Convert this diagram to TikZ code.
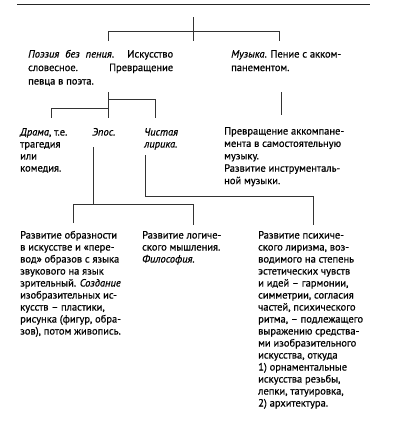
\documentclass[tikz,border=0pt]{standalone}
\usepackage{fontspec}
\setmainfont{PT Sans}[FakeBold=0.6]
\newcommand\myblk[1]{\parbox[t]{200pt}{\raggedright #1}}
\begin{document}
\begin{tikzpicture}[x=1pt,y=-1pt,
  txt/.style={anchor=base west, inner sep=0pt, font=\fontsize{10.5}{12}\selectfont},
  txtf/.style={anchor=base west, inner sep=0pt, font=\fontsize{10.5}{12.4}\selectfont},
  txtw/.style={anchor=base west, inner sep=0pt, font=\fontsize{10.5}{13.5}\selectfont},
  conn/.style={draw=black!80, line width=0.6pt}]
\useasboundingbox (0,0) rectangle (400,440);
% header rule
\coordinate (hl) at (17,4); \coordinate (hr) at (370,4);
\draw[draw=black!85, line width=0.7pt] (hl) -- (hr);
% texts
\node[txtw] (poetry) at (28,57.5) {\parbox[t]{145pt}{\textit{Поэзия без пения}. Искусство\linebreak словесное. Превращение\linebreak певца в поэта.}};
\node[txtw] (music) at (231,57.5) {\myblk{\textit{Музыка}. Пение с акком-\\панементом.}};
\node[txt] (drama) at (20,135.5) {\myblk{\textit{Драма}, т.е.\\трагедия\\или\\комедия.}};
\node[txt] (epos) at (92,135.5) {\myblk{\textit{Эпос.}}};
\node[txt] (lyric) at (144,135.5) {\myblk{\textit{Чистая}\\\textit{лирика.}}};
\node[txtf] (instr) at (224,134.5) {\myblk{Превращение аккомпане-\\мента в самостоятельную\\музыку.\\Развитие инструменталь-\\ной музыки.}};
\node[txt] (visual) at (20,238.5) {\myblk{Развитие образности\\в искусстве и «пере-\\вод» образов с языка\\звукового на язык\\зрительный. \textit{Создание}\\изобразительных ис-\\кусств – пластики,\\рисунка (фигур, обра-\\зов), потом живопись.}};
\node[txt] (logic) at (142,238.5) {\myblk{Развитие логиче-\\ского мышления.\\\textit{Философия.}}};
\node[txt] (psych) at (258,238.5) {\myblk{Развитие психиче-\\ского лиризма, воз-\\водимого на степень\\эстетических чувств\\и идей – гармонии,\\симметрии, согласия\\частей, психического\\ритма, – подлежащего\\выражению средства-\\ми изобразительного\\искусства, откуда\\1) орнаментальные\\искусства резьбы,\\лепки, татуировка,\\2) архитектура.}};
% connector coordinates
\coordinate (t0) at (193,17); \coordinate (t1) at (193,41);
\coordinate (bl) at (108,31); \coordinate (bl2) at (108,41);
\coordinate (br) at (279,31); \coordinate (br2) at (279,41);
\draw[conn] (t0) -- (t1);
\draw[conn] (bl2) -- (bl) -- (br) -- (br2);
\coordinate (p0) at (108,92); \coordinate (p1) at (108,118);
\coordinate (pm) at (108,99); \coordinate (pm2) at (108,108);
\coordinate (pr) at (155,99); \coordinate (pr2) at (155,118);
\coordinate (pl) at (51,108); \coordinate (pl2) at (51,118);
\draw[conn] (p0) -- (p1);
\draw[conn] (pm) -- (pr) -- (pr2);
\draw[conn] (pm2) -- (pl) -- (pl2);
\coordinate (m0) at (281,92); \coordinate (m1) at (281,115);
\draw[conn] (m0) -- (m1);
\coordinate (e0) at (93,147); \coordinate (e1) at (93,204);
\coordinate (el) at (73,204); \coordinate (el2) at (73,223);
\coordinate (er) at (193,204); \coordinate (er2) at (193,225);
\draw[conn] (e0) -- (e1);
\draw[conn] (el2) -- (el) -- (er) -- (er2);
\coordinate (l0) at (145,155); \coordinate (l1) at (145,196);
\coordinate (l2) at (313,196); \coordinate (l3) at (313,225);
\draw[conn] (l0) -- (l1) -- (l2) -- (l3);
\end{tikzpicture}
\end{document}
